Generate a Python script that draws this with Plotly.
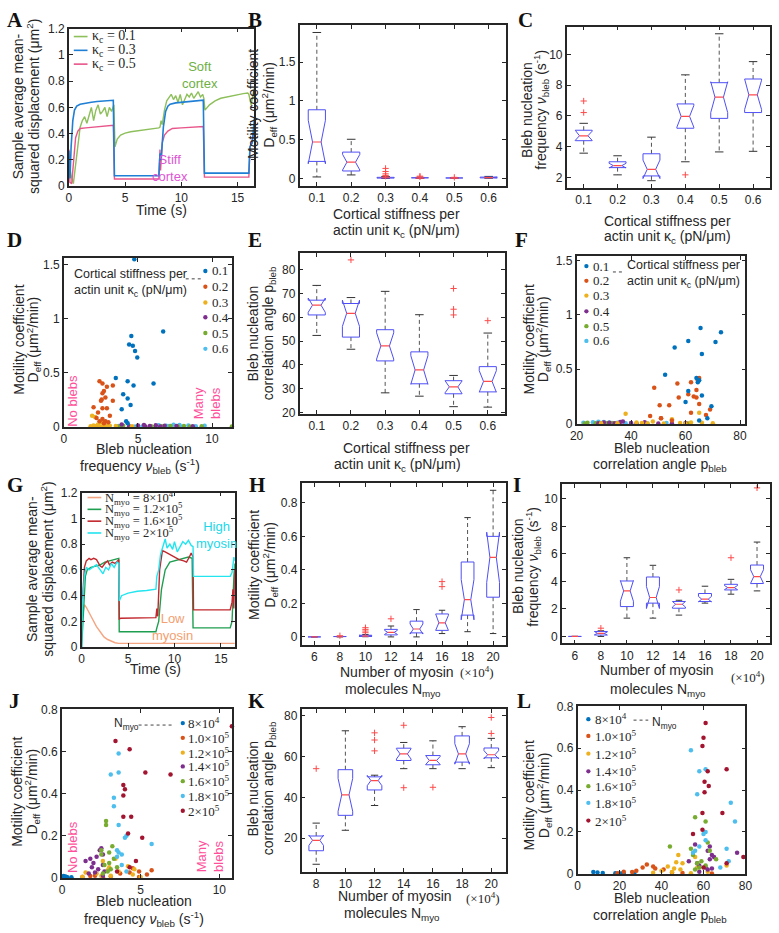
import plotly.graph_objects as go

W, H = 779, 933


def fx(p):
    return p / W


def fy(p):
    return 1 - p / H


# ======================= DATA =======================
kappa_labels = ["0.1", "0.2", "0.3", "0.4", "0.5", "0.6"]
myo_labels_H = ["6", "8", "10", "12", "14", "16", "18", "20"]
myo_labels_K = ["8", "10", "12", "14", "16", "18", "20"]

# ---- Panel A : MSD vs time for kappa_c ----
A_t_k01 = [0, 0.2, 0.4, 0.6, 0.8, 1.0, 1.2, 1.4, 1.6, 1.8, 2.0, 2.2, 2.4, 2.6, 2.8, 3.0, 3.2, 3.4, 3.6, 3.8,
           4.0, 4.1, 4.3, 4.6, 5, 5.5, 6, 6.5, 7, 7.5, 8.0, 8.1, 8.2, 8.3, 8.5, 8.7, 8.9, 9.1, 9.3, 9.5,
           9.7, 9.9, 10.1, 10.3, 10.5, 10.7, 10.9, 11.1, 11.3, 11.5, 11.7, 11.9, 12.0, 12.1, 12.5, 13, 13.5,
           14, 14.5, 15, 15.5, 15.9, 16.0, 16.2, 16.4, 16.5]
A_y_k01 = [0.2, 0.08, 0.02, 0.15, 0.32, 0.45, 0.5, 0.53, 0.48, 0.55, 0.6, 0.5, 0.58, 0.62, 0.55, 0.57, 0.6,
           0.53, 0.6, 0.57, 0.62, 0.3, 0.36, 0.39, 0.405, 0.415, 0.42, 0.43, 0.435, 0.44, 0.445, 0.45, 0.5,
           0.47, 0.58, 0.65, 0.68, 0.7, 0.66, 0.69, 0.64, 0.7, 0.62, 0.66, 0.7, 0.68, 0.71, 0.67, 0.7, 0.72,
           0.68, 0.7, 0.67, 0.58, 0.62, 0.65, 0.67, 0.68, 0.69, 0.7, 0.705, 0.71, 0.7, 0.62, 0.72, 0.75]
A_t_k03 = [0, 0.1, 0.2, 0.35, 0.5, 0.7, 1.0, 1.5, 2.0, 2.5, 3.0, 3.5, 3.95, 4.05, 4.2, 6, 8.0, 8.1, 8.2,
           8.4, 8.6, 8.8, 9.0, 9.5, 10, 10.5, 11, 11.5, 11.95, 12.05, 12.2, 14, 16.0, 16.1, 16.3, 16.5]
A_y_k03 = [0.27, 0.06, 0.3, 0.5, 0.58, 0.61, 0.625, 0.635, 0.64, 0.645, 0.65, 0.655, 0.655, 0.08, 0.08,
           0.08, 0.08, 0.25, 0.2, 0.45, 0.57, 0.61, 0.625, 0.635, 0.64, 0.645, 0.65, 0.652, 0.655, 0.1, 0.1,
           0.1, 0.1, 0.3, 0.33, 0.52]
A_t_k05 = [0, 0.1, 0.25, 0.4, 0.6, 0.8, 1.0, 1.5, 2, 2.5, 3, 3.5, 3.95, 4.05, 4.2, 6, 8.0, 8.1, 8.15, 8.3,
           8.5, 8.8, 9.2, 10, 11, 11.95, 12.05, 12.2, 14, 16.0, 16.1, 16.3, 16.5]
A_y_k05 = [0.28, 0.03, 0.02, 0.2, 0.37, 0.42, 0.44, 0.445, 0.45, 0.455, 0.46, 0.465, 0.465, 0.055, 0.055,
           0.055, 0.055, 0.28, 0.12, 0.33, 0.39, 0.42, 0.44, 0.445, 0.45, 0.455, 0.07, 0.07, 0.07, 0.07,
           0.3, 0.35, 0.42]

# ---- Box-plot statistics (B: Deff, C: nu_bleb, E: p_bleb vs kappa_c) ----
B_q1 = [0.22, 0.097, 0.005, 0.003, 0.002, 0.008]
B_med = [0.47, 0.21, 0.010, 0.006, 0.004, 0.012]
B_q3 = [0.885, 0.34, 0.015, 0.009, 0.007, 0.018]
B_lo = [0.02, 0.046, 0.0, 0.0, 0.0, 0.003]
B_hi = [1.88, 0.505, 0.025, 0.015, 0.012, 0.027]
B_notch = [0.28, 0.10, 0.004, 0.003, 0.002, 0.004]
B_out = [[], [], [0.13, 0.09, 0.06, 0.04, 0.03], [0.03, 0.02], [0.015], []]

C_q1 = [4.39, 2.64, 2.10, 5.20, 5.84, 6.22]
C_med = [4.71, 2.77, 2.53, 5.97, 7.22, 7.37]
C_q3 = [5.07, 3.02, 3.54, 6.78, 8.16, 8.40]
C_lo = [3.58, 2.17, 1.79, 3.02, 3.66, 3.70]
C_hi = [5.52, 3.41, 4.62, 8.67, 11.34, 9.53]
C_notch = [0.30, 0.15, 0.60, 0.70, 1.00, 0.95]
C_out = [[6.97, 6.22], [], [], [2.17], [], []]

E_q1 = [61.0, 51.7, 41.7, 32.1, 27.9, 28.7]
E_med = [65.1, 61.7, 48.0, 37.9, 30.8, 33.1]
E_q3 = [67.2, 65.8, 54.8, 45.5, 33.4, 39.3]
E_lo = [52.4, 46.6, 28.3, 26.9, 22.5, 22.3]
E_hi = [73.4, 68.3, 70.9, 61.1, 35.6, 53.4]
E_notch = [3.0, 5.5, 5.5, 6.0, 2.5, 4.5]
E_out = [[], [84.1], [], [], [72.1, 63.4, 61.0], [58.6]]

# ---- Scatter samples per kappa_c (D: nu_bleb vs Deff, F: p_bleb vs Deff) ----
k01_deff = [1.55, 0.88, 0.84, 0.76, 0.75, 0.70, 0.64, 0.45, 0.42, 0.40, 0.38, 0.30, 0.26, 0.20, 0.16, 0.05, 0.03]
k01_freq = [4.75, 6.7, 4.55, 4.4, 4.65, 4.8, 4.95, 3.5, 4.3, 6.05, 4.7, 4.0, 4.3, 4.5, 3.9, 4.2, 4.3]
k01_ang = [67, 65.5, 73, 61, 71, 56, 66, 52.5, 64, 65, 64.5, 61, 66, 60, 69.5, 68, 65]
k02_deff = [0.42, 0.40, 0.38, 0.37, 0.33, 0.31, 0.27, 0.25, 0.24, 0.24, 0.18, 0.17, 0.17, 0.13, 0.10, 0.08,
            0.07, 0.05, 0.05, 0.04, 0.03]
k02_freq = [2.4, 2.6, 3.3, 2.9, 2.7, 2.6, 2.8, 2.55, 2.5, 3.3, 2.0, 2.6, 2.9, 2.3, 3.1, 2.2, 2.6, 2.8, 2.4,
            3.0, 2.7]
k02_ang = [65, 64.5, 62, 57, 48.5, 64, 61, 63, 57.5, 64, 65, 50.5, 54, 69, 62, 67.5, 47, 51, 51, 84, 55]
k03_deff = [0.10, 0.09, 0.04, 0.02, 0.01, 0.01, 0.008, 0.005, 0.005, 0.004, 0.003, 0.003, 0.002, 0.002, 0.001]
k03_freq = [1.9, 2.1, 2.5, 2.3, 2.0, 2.8, 3.1, 2.2, 3.5, 2.6, 1.8, 4.6, 2.4, 3.0, 2.1]
k03_ang = [65, 38, 55, 48, 42, 62, 66, 44, 58, 35, 70, 29, 52, 46, 60]
k04_deff = [0.02, 0.015, 0.012, 0.01, 0.008, 0.006, 0.005, 0.004, 0.003, 0.002, 0.002, 0.001]
k04_freq = [3.9, 5.4, 6.2, 5.0, 6.8, 5.8, 7.6, 4.4, 8.7, 6.5, 5.5, 3.0]
k04_ang = [37, 36, 45, 30, 32, 60, 40, 28, 34, 55, 42, 50]
k05_deff = [0.008, 0.006, 0.005, 0.004, 0.003, 0.003, 0.002, 0.002, 0.001, 0.001]
k05_freq = [4.0, 7.2, 8.1, 5.9, 9.3, 6.6, 11.34, 7.7, 3.7, 8.5]
k05_ang = [24, 33, 30, 29, 27, 31, 23, 35, 61, 46]
k06_deff = [0.018, 0.015, 0.012, 0.01, 0.009, 0.008, 0.006, 0.005, 0.004, 0.003, 0.002, 0.002, 0.001]
k06_freq = [7.4, 7.8, 6.4, 8.4, 6.9, 9.5, 7.1, 3.7, 8.9, 6.2, 5.3, 7.9, 4.8]
k06_ang = [28, 30, 26, 32, 35, 22.5, 29, 53, 38, 40, 33, 31, 27]

# ---- Panel G : MSD vs time for N_myo ----
G_t_8e4 = [0, 0.1, 0.3, 0.5, 0.8, 1.0, 1.3, 1.6, 2.0, 2.4, 2.8, 3.2, 3.6, 4.0, 8, 12, 16.5]
G_y_8e4 = [0.2, 0.25, 0.33, 0.31, 0.27, 0.24, 0.2, 0.16, 0.12, 0.08, 0.06, 0.045, 0.035, 0.03, 0.03, 0.03, 0.03]
G_t_12e4 = [0, 0.2, 0.4, 0.6, 1.0, 1.5, 2, 2.5, 3, 3.5, 4.0, 4.05, 8.0, 8.1, 8.3, 8.6, 9, 9.5, 10, 10.5,
            11, 11.5, 11.9, 12.0, 16.0, 16.2, 16.4, 16.5]
G_y_12e4 = [0, 0.3, 0.55, 0.6, 0.62, 0.63, 0.64, 0.66, 0.67, 0.68, 0.69, 0.12, 0.12, 0.15, 0.2, 0.45, 0.6,
            0.66, 0.67, 0.68, 0.69, 0.7, 0.69, 0.15, 0.15, 0.2, 0.55, 0.65]
G_t_16e4 = [0, 0.15, 0.3, 0.5, 0.8, 1.0, 1.3, 1.6, 2.0, 2.2, 2.5, 2.8, 3.0, 3.3, 3.6, 4.0, 4.05, 4.2, 8.0,
            8.1, 8.2, 8.4, 8.7, 9.0, 9.5, 10, 10.5, 11, 11.3, 11.6, 11.8, 12.0, 12.05, 16.0, 16.2, 16.3,
            16.4, 16.5]
G_y_16e4 = [0.25, 0.45, 0.62, 0.67, 0.69, 0.68, 0.69, 0.68, 0.63, 0.62, 0.65, 0.67, 0.64, 0.66, 0.65, 0.68,
            0.22, 0.225, 0.23, 0.3, 0.24, 0.6, 0.75, 0.74, 0.72, 0.7, 0.68, 0.67, 0.66, 0.7, 0.73, 0.7, 0.29,
            0.29, 0.35, 0.45, 0.3, 0.6]
G_t_2e5 = [0, 0.1, 0.3, 0.5, 0.8, 1.2, 1.6, 2.0, 2.3, 2.6, 2.9, 3.2, 3.5, 3.8, 4.0, 4.05, 4.3, 5, 6, 7, 8,
           8.1, 8.3, 8.5, 8.8, 9.0, 9.2, 9.5, 9.8, 10, 10.3, 10.6, 10.9, 11.2, 11.5, 11.8, 12.0, 12.05, 13,
           14, 15, 16.0, 16.2, 16.4, 16.5]
G_y_2e5 = [0.0, 0.35, 0.55, 0.62, 0.6, 0.62, 0.64, 0.6, 0.57, 0.62, 0.6, 0.65, 0.62, 0.66, 0.65, 0.36,
           0.4, 0.42, 0.435, 0.44, 0.45, 0.55, 0.6, 0.72, 0.8, 0.84, 0.77, 0.8, 0.76, 0.82, 0.74, 0.78, 0.82,
           0.8, 0.83, 0.79, 0.78, 0.55, 0.55, 0.55, 0.55, 0.55, 0.58, 0.7, 0.67]

# ---- Box-plot statistics (H: Deff, I: nu_bleb, K: p_bleb vs N_myo) ----
H_q1 = [0, 0.0005, 0.003, 0.012, 0.024, 0.039, 0.13, 0.237]
H_med = [0, 0.001, 0.005, 0.027, 0.047, 0.084, 0.222, 0.475]
H_q3 = [0, 0.002, 0.010, 0.045, 0.094, 0.137, 0.447, 0.600]
H_lo = [0, 0, 0.001, 0, 0, 0.02, 0.031, 0.02]
H_hi = [0, 0.003, 0.014, 0.065, 0.163, 0.159, 0.712, 0.875]
H_notch = [0, 0.001, 0.003, 0.012, 0.03, 0.045, 0.12, 0.15]
H_out = [[], [0.007], [0.055, 0.045, 0.035, 0.025], [0.108], [], [0.33, 0.30], [], []]

I_q1 = [0, 0.10, 2.17, 2.42, 2.05, 2.54, 3.38, 3.84]
I_med = [0, 0.22, 3.31, 2.83, 2.34, 2.71, 3.55, 4.35]
I_q3 = [0, 0.36, 4.03, 4.32, 2.54, 3.12, 3.79, 5.19]
I_lo = [0, 0, 1.33, 1.33, 1.55, 2.42, 3.07, 3.31]
I_hi = [0, 0.41, 5.72, 5.17, 2.63, 3.65, 4.15, 6.86]
I_notch = [0, 0.1, 0.75, 0.8, 0.2, 0.2, 0.15, 0.5]
I_out = [[], [0.6], [], [], [3.38], [], [5.72], [10.8]]

K_q1 = [13.9, 31.2, 43.6, 58.0, 55.9, 57.2, 59.3]
K_med = [19.0, 41.2, 48.2, 61.2, 58.0, 61.2, 60.8]
K_q3 = [21.1, 53.5, 50.0, 64.0, 60.4, 70.0, 64.1]
K_lo = [7.3, 23.9, 36.0, 54.0, 54.0, 54.0, 54.5]
K_hi = [27.4, 72.5, 50.8, 66.8, 67.6, 74.5, 68.8]
K_notch = [2.5, 8.0, 2.5, 2.5, 2.0, 5.0, 2.0]
K_out = [[54.0], [], [71.5, 68.0, 62.7], [75.2, 44.7], [44.9], [], [79.0, 71.2]]

# ---- Scatter samples per N_myo (J: nu_bleb vs Deff, L: p_bleb vs Deff) ----
m08_deff = [0.008, 0.006, 0.004, 0.003, 0.002, 0.002, 0.001, 0.001]
m08_freq = [0.1, 0.2, 0.3, 0.25, 0.6, 0.15, 0.35, 0.05]
m08_ang = [7.5, 9.5, 12, 18, 20, 21, 22, 27]
m10_deff = [0.045, 0.035, 0.03, 0.025, 0.02, 0.015, 0.01, 0.008, 0.006, 0.004, 0.003, 0.002]
m10_freq = [4.5, 5.7, 4.9, 4.3, 3.7, 5.4, 2.1, 1.8, 3.1, 4.9, 1.3, 2.6]
m10_ang = [33, 36, 31, 37, 41, 28, 22, 26, 45, 50, 19, 64]
m12_deff = [0.09, 0.08, 0.055, 0.05, 0.04, 0.035, 0.03, 0.025, 0.02, 0.015, 0.01, 0.008, 0.005, 0.003]
m12_freq = [3.4, 2.6, 4.2, 3.0, 4.6, 2.9, 3.6, 1.5, 2.2, 4.5, 3.1, 2.5, 1.3, 5.0]
m12_ang = [48, 56, 47, 50, 71, 43, 57, 46, 49, 40, 62, 45, 36, 54]
m14_deff = [0.14, 0.13, 0.11, 0.10, 0.09, 0.08, 0.07, 0.06, 0.05, 0.04, 0.03, 0.025, 0.02, 0.01]
m14_freq = [2.5, 2.4, 2.6, 2.2, 1.8, 1.5, 2.0, 2.6, 1.9, 2.3, 2.7, 2.1, 1.7, 2.6]
m14_ang = [56, 63, 62, 76, 64, 65, 63, 53, 57, 58, 61, 64, 62, 58]
m16_deff = [0.27, 0.25, 0.15, 0.13, 0.12, 0.11, 0.09, 0.07, 0.06, 0.05, 0.04, 0.03, 0.02]
m16_freq = [2.8, 2.8, 3.2, 2.5, 3.0, 2.5, 3.3, 3.0, 2.7, 3.5, 3.1, 2.9, 2.6]
m16_ang = [56, 61, 62, 44, 54, 63, 55, 66, 59, 57, 61, 58, 56]
m18_deff = [0.59, 0.50, 0.49, 0.38, 0.34, 0.25, 0.20, 0.19, 0.16, 0.13, 0.12, 0.11, 0.10, 0.06, 0.03]
m18_freq = [3.6, 3.6, 3.1, 3.3, 3.3, 3.6, 4.1, 4.0, 5.7, 3.5, 3.6, 3.8, 3.5, 3.8, 4.1]
m18_ang = [54, 61, 58, 57, 73, 75, 61, 60, 61, 58, 71, 56, 55, 72, 68]
m20_deff = [0.72, 0.65, 0.61, 0.50, 0.49, 0.44, 0.42, 0.39, 0.29, 0.29, 0.21, 0.19, 0.08, 0.05, 0.03]
m20_freq = [10.8, 3.4, 4.3, 5.3, 6.9, 3.9, 4.0, 3.9, 4.4, 3.9, 4.2, 5.1, 4.7, 4.3, 3.5]
m20_ang = [61, 60, 59.5, 71, 62, 60.5, 62.5, 60.5, 69, 59.5, 59.5, 55, 79, 71, 60]

kappa_names = ["0.1", "0.2", "0.3", "0.4", "0.5", "0.6"]
myo_names = ["8×10<sup>4</sup>", "1.0×10<sup>5</sup>", "1.2×10<sup>5</sup>", "1.4×10<sup>5</sup>",
             "1.6×10<sup>5</sup>", "1.8×10<sup>5</sup>", "2×10<sup>5</sup>"]

# ======================= STYLE =======================
MAT = ["#0072BD", "#D95319", "#EDB120", "#7E2F8E", "#77AC30", "#4DBEEE", "#A2142F"]
A_COLORS = ["#8DBF5A", "#1F7FD4", "#E8558A"]
G_COLORS = ["#F4A582", "#1E9E50", "#C1272D", "#22E5F0"]
BOX_BLUE = "#4F4FF5"
MED_RED = "#FF4A4A"
DARK = "#262626"
SANS = "Liberation Sans, Arial, sans-serif"
SERIF = "Liberation Serif, Times New Roman, serif"

panels = ["A", "B", "C", "D", "E", "F", "G", "H", "I", "J", "K", "L"]
AX = {}
for i, p in enumerate(panels, 1):
    AX[p] = ("x" if i == 1 else f"x{i}", "y" if i == 1 else f"y{i}")

spec = {
    "A": dict(xd=(63, 252), yd=(22, 182), xr=[0, 16.5], yr=[0, 1.2], xt=[0, 5, 10, 15],
              yt=[0, 0.2, 0.4, 0.6, 0.8, 1, 1.2]),
    "B": dict(xd=(298, 508), yd=(18, 182), xr=[0.5, 6.5], yr=[-0.1, 1.98], cat=kappa_labels,
              yt=[0, 0.5, 1, 1.5]),
    "C": dict(xd=(570, 777), yd=(20, 184), xr=[0.5, 6.5], yr=[1.3, 11.8], cat=kappa_labels,
              yt=[2, 4, 6, 8, 10]),
    "D": dict(xd=(58, 229), yd=(255, 426), xr=[0, 11.34], yr=[0, 1.56], xt=[0, 5, 10],
              yt=[0, 0.5, 1, 1.5]),
    "E": dict(xd=(298, 507), yd=(250, 413), xr=[0.5, 6.5], yr=[19.5, 86.9], cat=kappa_labels,
              yt=[20, 30, 40, 50, 60, 70, 80]),
    "F": dict(xd=(580, 752), yd=(253, 423), xr=[20, 82], yr=[0, 1.54], xt=[20, 40, 60, 80],
              yt=[0, 0.5, 1, 1.5]),
    "G": dict(xd=(76, 232), yd=(493, 650), xr=[0, 16.5], yr=[0, 1.2], xt=[0, 5, 10, 15],
              yt=[0, 0.2, 0.4, 0.6, 0.8, 1, 1.2]),
    "H": dict(xd=(300, 508), yd=(483, 648), xr=[0.5, 8.5], yr=[-0.05, 0.92], cat=myo_labels_H,
              yt=[0, 0.2, 0.4, 0.6, 0.8]),
    "I": dict(xd=(565, 777), yd=(484, 646), xr=[0.5, 8.5], yr=[-0.5, 11.1], cat=myo_labels_H,
              yt=[0, 2, 4, 6, 8, 10]),
    "J": dict(xd=(56, 229), yd=(713, 884), xr=[0, 10.8], yr=[0, 0.8], xt=[0, 5, 10],
              yt=[0, 0.2, 0.4, 0.6, 0.8]),
    "K": dict(xd=(300, 508), yd=(713, 878), xr=[0.5, 7.5], yr=[3.6, 83], cat=myo_labels_K,
              yt=[20, 40, 60, 80]),
    "L": dict(xd=(581, 752), yd=(710, 880), xr=[0, 80], yr=[0, 0.8], xt=[0, 20, 40, 60, 80],
              yt=[0, 0.2, 0.4, 0.6, 0.8]),
}

fig = go.Figure()

base_axis = dict(showline=True, linecolor=DARK, linewidth=1.6, mirror="ticks", ticks="inside",
                 ticklen=4, tickwidth=1, tickcolor=DARK, showgrid=False, zeroline=False,
                 tickfont=dict(family=SANS, size=12, color=DARK), fixedrange=True)
layout_axes = {}
for i, p in enumerate(panels, 1):
    s = spec[p]
    xk = "xaxis" if i == 1 else f"xaxis{i}"
    yk = "yaxis" if i == 1 else f"yaxis{i}"
    xa = dict(base_axis, domain=[fx(s["xd"][0]), fx(s["xd"][1])], range=s["xr"], anchor=AX[p][1])
    if "cat" in s:
        xa["tickvals"] = list(range(1, len(s["cat"]) + 1))
        xa["ticktext"] = s["cat"]
    else:
        xa["tickvals"] = s["xt"]
    ya = dict(base_axis, domain=[fy(s["yd"][1]), fy(s["yd"][0])], range=s["yr"], anchor=AX[p][0],
              tickvals=s["yt"])
    layout_axes[xk] = xa
    layout_axes[yk] = ya
fig.update_layout(**layout_axes)


def add_line(panel, t, y, color, width=1.4):
    xr, yr = AX[panel]
    fig.add_trace(go.Scatter(x=t, y=y, mode="lines", line=dict(color=color, width=width),
                             xaxis=xr, yaxis=yr, showlegend=False, hoverinfo="skip"))


def add_boxes(panel, q1, med, q3, lo, hi, notch, outs, hw=0.25):
    xr, yr = AX[panel]
    bx, by, mx, my, wx, wy, cx, cy, ox, oy = [], [], [], [], [], [], [], [], [], []
    for k in range(len(q1)):
        p = k + 1
        n = notch[k]
        bx += [p - hw, p + hw, p + hw, p + hw * 0.5, p + hw, p + hw, p - hw, p - hw, p - hw * 0.5, p - hw,
               p - hw, None]
        by += [q3[k], q3[k], med[k] + n, med[k], med[k] - n, q1[k], q1[k], med[k] - n, med[k], med[k] + n,
               q3[k], None]
        mx += [p - hw * 0.5, p + hw * 0.5, None]
        my += [med[k], med[k], None]
        wx += [p, p, None, p, p, None]
        wy += [q3[k], hi[k], None, q1[k], lo[k], None]
        cx += [p - hw * 0.5, p + hw * 0.5, None, p - hw * 0.5, p + hw * 0.5, None]
        cy += [hi[k], hi[k], None, lo[k], lo[k], None]
        for o in outs[k]:
            ox.append(p)
            oy.append(o)
    fig.add_trace(go.Scatter(x=wx, y=wy, mode="lines", line=dict(color="#555555", width=1, dash="4px,3px"),
                             xaxis=xr, yaxis=yr, showlegend=False, hoverinfo="skip"))
    fig.add_trace(go.Scatter(x=cx, y=cy, mode="lines", line=dict(color="#333333", width=1),
                             xaxis=xr, yaxis=yr, showlegend=False, hoverinfo="skip"))
    fig.add_trace(go.Scatter(x=bx, y=by, mode="lines", line=dict(color=BOX_BLUE, width=1),
                             xaxis=xr, yaxis=yr, showlegend=False, hoverinfo="skip"))
    fig.add_trace(go.Scatter(x=mx, y=my, mode="lines", line=dict(color=MED_RED, width=1.2),
                             xaxis=xr, yaxis=yr, showlegend=False, hoverinfo="skip"))
    fig.add_trace(go.Scatter(x=ox, y=oy, mode="markers",
                             marker=dict(symbol="cross-thin", size=4.5, line=dict(color=MED_RED, width=1)),
                             xaxis=xr, yaxis=yr, showlegend=False, hoverinfo="skip"))


def add_dots(panel, xs, ys, color):
    xr, yr = AX[panel]
    fig.add_trace(go.Scatter(x=xs, y=ys, mode="markers", marker=dict(color=color, size=4.5),
                             xaxis=xr, yaxis=yr, showlegend=False, cliponaxis=False, hoverinfo="skip"))


# ---- Panel A ----
add_line("A", A_t_k01, A_y_k01, A_COLORS[0])
add_line("A", A_t_k05, A_y_k05, A_COLORS[2])
add_line("A", A_t_k03, A_y_k03, A_COLORS[1], 1.6)

# ---- Boxes ----
add_boxes("B", B_q1, B_med, B_q3, B_lo, B_hi, B_notch, B_out)
add_boxes("C", C_q1, C_med, C_q3, C_lo, C_hi, C_notch, C_out)
add_boxes("E", E_q1, E_med, E_q3, E_lo, E_hi, E_notch, E_out)
add_boxes("H", H_q1, H_med, H_q3, H_lo, H_hi, H_notch, H_out)
add_boxes("I", I_q1, I_med, I_q3, I_lo, I_hi, I_notch, I_out)
add_boxes("K", K_q1, K_med, K_q3, K_lo, K_hi, K_notch, K_out)

# ---- Scatter D/F ----
kappa_sets = [(k01_freq, k01_ang, k01_deff), (k02_freq, k02_ang, k02_deff), (k03_freq, k03_ang, k03_deff),
              (k04_freq, k04_ang, k04_deff), (k05_freq, k05_ang, k05_deff), (k06_freq, k06_ang, k06_deff)]
for idx in [5, 4, 3, 2, 1, 0]:
    f_, a_, d_ = kappa_sets[idx]
    add_dots("D", f_, d_, MAT[idx])
    add_dots("F", a_, d_, MAT[idx])

# ---- Panel G ----
add_line("G", G_t_8e4, G_y_8e4, G_COLORS[0])
add_line("G", G_t_12e4, G_y_12e4, G_COLORS[1])
add_line("G", G_t_16e4, G_y_16e4, G_COLORS[2])
add_line("G", G_t_2e5, G_y_2e5, G_COLORS[3])

# ---- Scatter J/L ----
myo_sets = [(m08_freq, m08_ang, m08_deff), (m10_freq, m10_ang, m10_deff), (m12_freq, m12_ang, m12_deff),
            (m14_freq, m14_ang, m14_deff), (m16_freq, m16_ang, m16_deff), (m18_freq, m18_ang, m18_deff),
            (m20_freq, m20_ang, m20_deff)]
for idx in range(7):
    f_, a_, d_ = myo_sets[idx]
    add_dots("J", f_, d_, MAT[idx])
    add_dots("L", a_, d_, MAT[idx])

# ======================= ANNOTATIONS =======================
anns = []
shapes = []


def ann(text, x, y, size=14, color=DARK, family=SANS, angle=0, xanchor="center", yanchor="middle",
        align="center"):
    anns.append(dict(text=text, x=fx(x), y=fy(y), xref="paper", yref="paper", showarrow=False,
                     font=dict(family=family, size=size, color=color), textangle=angle,
                     xanchor=xanchor, yanchor=yanchor, align=align))


# panel letters
for lab, (x, y) in {"A": (8, 13), "B": (253, 13), "C": (528, 13), "D": (8, 237), "E": (253, 237),
                    "F": (524, 237), "G": (8, 485), "H": (255, 485), "I": (519, 485), "J": (8, 705),
                    "K": (254, 705), "L": (526, 705)}.items():
    ann(f"<b>{lab}</b>", x, y, size=21, family=SERIF, color="#111111")

mot1 = "Motility coefficient"
mot2 = "D<sub>eff</sub> (μm<sup>2</sup>/min)"
msd1 = "Sample average mean-"
msd2 = "squared displacement (μm<sup>2</sup>)"
freq1 = "Bleb nucleation"
freq2 = "frequency <i>ν</i><sub>bleb</sub> (s<sup>-1</sup>)"
ang2 = "correlation angle p<sub>bleb</sub>"
kap1 = "Cortical stiffness per"
kap2 = "actin unit κ<sub>c</sub> (pN/μm)"
myo1 = "Number of myosin"
myo2 = "molecules N<sub>myo</sub>"

# y titles (rotated, two centred lines)
for l1, l2, x1, x2, yc in [(msd1, msd2, 12, 27, 101),
                           (mot1, mot2, 250, 266, 99),
                           (freq1, freq2, 530, 544, 104),
                           (mot1, mot2, 12, 27, 338),
                           (freq1, ang2, 251, 267, 331),
                           (mot1, mot2, 531, 546, 337),
                           (msd1, msd2, 26, 41, 571),
                           (mot1, mot2, 251, 267, 566),
                           (freq1, freq2, 521, 536, 568),
                           (mot1, mot2, 10, 26, 797),
                           (freq1, ang2, 251, 267, 793),
                           (mot1, mot2, 532, 547, 800)]:
    ann(l1, x1, yc, angle=-90)
    ann(l2, x2, yc, angle=-90)

# x titles
for text, x, y in [("Time (s)", 157, 206),
                   (kap1, 397, 210), (kap2, 397, 227),
                   (kap1, 673, 217), (kap2, 673, 233),
                   (freq1, 140, 449), (freq2, 135, 466),
                   (kap1, 407, 448), (kap2, 398, 465),
                   (freq1, 667, 448), (ang2, 665, 465),
                   ("Time (s)", 151, 672),
                   (myo1, 397, 675), (myo2, 393, 693),
                   (myo1, 662, 673), (myo2, 663, 693),
                   (freq1, 140, 908), (freq2, 140, 926),
                   (myo1, 395, 903), (myo2, 392, 921),
                   (freq1, 667, 905), (ang2, 665, 923)]:
    ann(text, x, y)
for x, y in [(479, 675), (755, 680), (485, 905)]:
    ann("(×10<sup>4</sup>)", x, y, size=13, family=SERIF)

# in-plot notes
ann("Soft<br>cortex", 197, 69, size=13, color="#6DB043")
ann("Stiff<br>cortex", 166, 163, size=13, color="#E055D5")
ann("High<br>myosin", 213, 536, size=13, color="#22D8E8")
ann("Low<br>myosin", 169, 629, size=13, color="#F4A070")
for x, y in [(67, 400), (66, 853)]:
    ann("No blebs", x, y, size=13, color="#FF4F9A", angle=-90)
ann("Many<br>blebs", 204, 402, size=13, color="#FF4F9A", angle=-90)
ann("Many<br>blebs", 207, 862, size=13, color="#FF4F9A", angle=-90)


# line legends (A, G)
def line_key(x0, x1, y, color):
    shapes.append(dict(type="line", xref="paper", yref="paper", x0=fx(x0), x1=fx(x1), y0=fy(y), y1=fy(y),
                       line=dict(color=color, width=1.6)))


def dot_key(x, y, color, r=2.2):
    shapes.append(dict(type="circle", xref="paper", yref="paper", x0=fx(x - r), x1=fx(x + r),
                       y0=fy(y + r), y1=fy(y - r), fillcolor=color, line=dict(width=0)))


def dotted(x0, x1, y):
    shapes.append(dict(type="line", xref="paper", yref="paper", x0=fx(x0), x1=fx(x1), y0=fy(y), y1=fy(y),
                       line=dict(color="#444444", width=1, dash="dot")))


for k, (yy, lab) in enumerate(zip([30, 44, 58], ["0.1", "0.3", "0.5"])):
    line_key(68, 82, yy, A_COLORS[k])
    ann(f"κ<sub>c</sub> = {lab}", 85, yy, size=14, family=SERIF, xanchor="left")

for k, (yy, lab) in enumerate(zip([498, 510, 522, 534], ["8×10<sup>4</sup>", "1.2×10<sup>5</sup>",
                                                       "1.6×10<sup>5</sup>", "2×10<sup>5</sup>"])):
    line_key(82, 96, yy, G_COLORS[k])
    ann(f"N<sub>myo</sub> = {lab}", 98, yy, size=12.5, family=SERIF, xanchor="left")

# D legend
for k, yy in enumerate([268, 284, 300, 315, 331, 347]):
    dot_key(202, yy, MAT[k])
    ann(kappa_names[k], 207, yy, size=13, family=SERIF, xanchor="left")
ann(kap1 + "<br>" + kap2, 66, 280, size=12.5, xanchor="left")
dotted(182, 198, 276)

# F legend
for k, yy in enumerate([263, 278, 293, 309, 324, 339]):
    dot_key(590, yy, MAT[k])
    ann(kappa_names[k], 595, yy, size=13, family=SERIF, xanchor="left")
ann(kap1 + "<br>" + kap2, 629, 271, size=12.5, xanchor="left")
dotted(617, 627, 269)

# J legend
for k, yy in enumerate([727, 742, 757, 771, 786, 801, 816]):
    dot_key(179, yy, MAT[k])
    ann(myo_names[k], 182, yy, size=13, family=SERIF, xanchor="left")
ann("N<sub>myo</sub>", 107, 728, size=12, xanchor="left")
dotted(134, 170, 729)

# L legend
for k, yy in enumerate([723, 740, 758, 776, 791, 808, 826]):
    dot_key(592, yy, MAT[k])
    ann(myo_names[k], 597, yy, size=13, family=SERIF, xanchor="left")
dotted(638, 653, 724)
ann("N<sub>myo</sub>", 655, 727, size=12, xanchor="left")

fig.update_layout(width=W, height=H, margin=dict(l=0, r=0, t=0, b=0), paper_bgcolor="white",
                  plot_bgcolor="white", showlegend=False, annotations=anns, shapes=shapes)

fig.write_html("out.html", config={"displayModeBar": False},
               post_script="document.body.style.margin='0px';document.body.style.overflow='hidden';")
